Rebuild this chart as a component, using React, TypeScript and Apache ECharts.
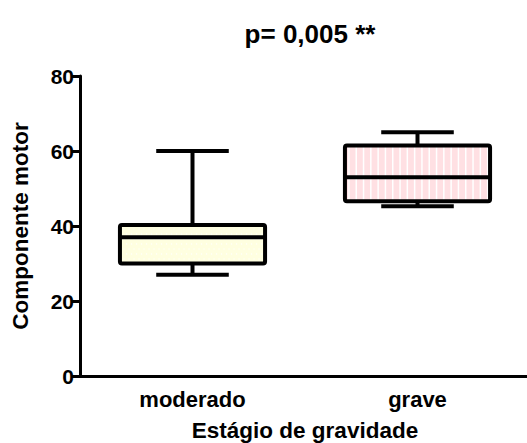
import React, { useEffect, useRef } from "react";
import * as echarts from "echarts";

const categories = ["moderado", "grave"];
const mins = [27, 45.3];
const q1s = [30, 46.6];
const medians = [37, 53];
const q3s = [40.3, 61.5];
const maxs = [60, 65];
const fills = ["#FFFFE0", "#FFE0E3"];
const yTicks = [0, 20, 40, 60, 80];

const FONT = "'Liberation Sans', Arial, sans-serif";

export default function App() {
  const ref = useRef<HTMLDivElement>(null);
  useEffect(() => {
    if (!ref.current) return;
    const chart = echarts.init(ref.current, undefined, { renderer: "svg" });
    const data = categories.map((_, i) => [i, mins[i], q1s[i], medians[i], q3s[i], maxs[i]]);
    const renderItem = (params: any, api: any) => {
      const idx = api.value(0);
      const cx = api.coord([idx, 0])[0];
      const band = api.size([1, 0])[0];
      const bw = band * 0.645;
      const cw = bw / 2;
      const yMin = api.coord([idx, api.value(1)])[1];
      const yQ1 = api.coord([idx, api.value(2)])[1];
      const yMed = api.coord([idx, api.value(3)])[1];
      const yQ3 = api.coord([idx, api.value(4)])[1];
      const yMax = api.coord([idx, api.value(5)])[1];
      const lw = 4;
      const line = { stroke: "#000", lineWidth: lw };
      const children: any[] = [];
      const x0 = cx - bw / 2;
      const x1 = cx + bw / 2;
      children.push({
        type: "rect",
        shape: { x: x0, y: yQ3, width: bw, height: yQ1 - yQ3 },
        style: { fill: fills[idx], stroke: null },
      });
      if (idx === 1) {
        for (let x = x0 + 4; x < x1 - 2; x += 7.3) {
          children.push({
            type: "line",
            shape: { x1: x, y1: yQ3, x2: x, y2: yQ1 },
            style: { stroke: "#ffffff", lineWidth: 1.5 },
          });
        }
      } else {
        let row = 0;
        for (let y = yQ3 + 4; y < yQ1 - 2; y += 5) {
          const off = row % 2 === 0 ? 0 : 2.5;
          for (let x = x0 + 4 + off; x < x1 - 2; x += 5) {
            children.push({
              type: "rect",
              shape: { x: x - 0.5, y: y - 0.5, width: 1.2, height: 1.2 },
              style: { fill: "#ffffff" },
            });
          }
          row++;
        }
      }
      children.push({
        type: "rect",
        shape: { x: x0, y: yQ3, width: bw, height: yQ1 - yQ3, r: 2 },
        style: { fill: null, stroke: "#000", lineWidth: lw, lineJoin: "round" },
      });
      children.push({ type: "line", shape: { x1: x0, y1: yMed, x2: x1, y2: yMed }, style: line });
      children.push({ type: "line", shape: { x1: cx, y1: yMax, x2: cx, y2: yQ3 }, style: line });
      children.push({ type: "line", shape: { x1: cx, y1: yQ1, x2: cx, y2: yMin }, style: line });
      children.push({ type: "line", shape: { x1: cx - cw / 2, y1: yMax, x2: cx + cw / 2, y2: yMax }, style: line });
      children.push({ type: "line", shape: { x1: cx - cw / 2, y1: yMin, x2: cx + cw / 2, y2: yMin }, style: line });
      return { type: "group", children };
    };
    chart.setOption({
      animation: false,
      backgroundColor: "#ffffff",
      title: {
        text: "p= 0,005 **",
        left: 305,
        textAlign: "center",
        top: 16,
        textStyle: { fontFamily: FONT, fontWeight: "bold", fontSize: 26, color: "#000" },
      },
      grid: {
        left: 80,
        top: 76,
        width: 450,
        bottom: 67,
        containLabel: false,
        outerBoundsMode: "none",
      },
      xAxis: {
        type: "category",
        data: categories,
        name: "Estágio de gravidade",
        nameLocation: "middle",
        nameGap: 43,
        nameTextStyle: { fontFamily: FONT, fontWeight: "bold", fontSize: 22.5, color: "#000" },
        axisLine: { lineStyle: { color: "#000", width: 3 } },
        axisTick: { alignWithLabel: true, length: 8, lineStyle: { color: "#000", width: 3 } },
        axisLabel: { margin: 12, fontFamily: FONT, fontWeight: "bold", fontSize: 22, color: "#000" },
        splitLine: { show: false },
      },
      yAxis: {
        type: "value",
        min: yTicks[0],
        max: yTicks[yTicks.length - 1],
        interval: 20,
        name: "Componente motor",
        nameLocation: "middle",
        nameGap: 48,
        nameTextStyle: { fontFamily: FONT, fontWeight: "bold", fontSize: 22.5, color: "#000" },
        axisLine: { show: true, lineStyle: { color: "#000", width: 3 } },
        axisTick: { show: true, length: 8, lineStyle: { color: "#000", width: 3 } },
        axisLabel: { margin: 6, fontFamily: FONT, fontWeight: "bold", fontSize: 21, color: "#000" },
        splitLine: { show: false },
      },
      series: [
        {
          type: "custom",
          renderItem,
          data,
          encode: { x: 0, y: [1, 2, 3, 4, 5] },
          clip: false,
        },
      ],
    });
    return () => chart.dispose();
  }, []);
  return (
    <div
      ref={ref}
      style={{ position: "fixed", left: 0, top: 0, width: 527, height: 443, background: "#fff" }}
    />
  );
}
